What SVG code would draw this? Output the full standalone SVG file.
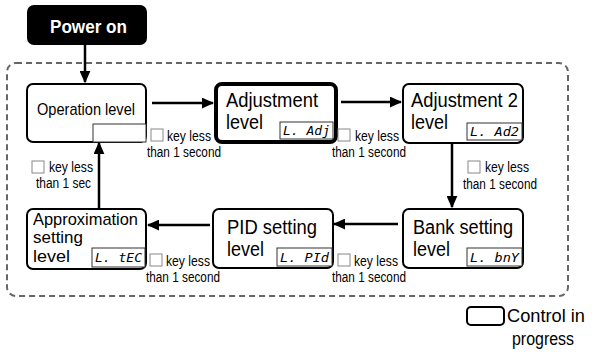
<svg xmlns="http://www.w3.org/2000/svg" width="594" height="352" viewBox="0 0 594 352">
<style>
text{font-family:"Liberation Sans",Arial,sans-serif;fill:#000}
.node{fill:#fff;stroke:#000;stroke-width:2}
.big{font-size:19.5px}
.lbl{font-size:14px}
.cb{fill:#fff;stroke:#888;stroke-width:1}
.disp{fill:#fff;stroke:#333;stroke-width:1}
.seg{font-family:"DejaVu Sans Mono","Liberation Mono",monospace;font-size:13px;font-style:italic}
.conn{stroke:#000;stroke-width:2.5;fill:none}
.apx{font-size:17px}
</style>
<defs>
<marker id="ah" viewBox="0 0 10 10" refX="9" refY="5" markerWidth="5" markerHeight="4.4" orient="auto" markerUnits="strokeWidth" preserveAspectRatio="none">
<path d="M0,0 L10,5 L0,10 Z" fill="#000"/>
</marker>
</defs>
<rect x="7" y="63" width="561" height="233" rx="9" fill="none" stroke="#666" stroke-width="2" stroke-dasharray="6 4"/>
<g id="power">
<rect x="27" y="5" width="120" height="40" rx="7" fill="#000"/>
<text x="50" y="33" textLength="77" lengthAdjust="spacingAndGlyphs" style="font-size:18.5px;font-weight:bold;fill:#fff">Power on</text>
</g>
<g id="operation">
<rect class="node" x="27" y="84" width="119" height="58" rx="6"/>
<rect x="93" y="124" width="53" height="18" fill="#fff" stroke="#333" stroke-width="1"/>
<text x="37" y="115" textLength="98" lengthAdjust="spacingAndGlyphs" style="font-size:17px">Operation level</text>
</g>
<g id="adjustment">
<rect x="216" y="84" width="120" height="58" rx="6" fill="#fff" stroke="#000" stroke-width="4"/>
<text class="big" x="226" y="107" textLength="92" lengthAdjust="spacingAndGlyphs">Adjustment</text>
<text class="big" x="226" y="129" textLength="37" lengthAdjust="spacingAndGlyphs">level</text>
<rect class="disp" x="280" y="122" width="53" height="17"/>
<text class="seg" x="283" y="135" textLength="47" lengthAdjust="spacingAndGlyphs">L. Adj</text>
</g>
<g id="adjustment2">
<rect class="node" x="403" y="84" width="120" height="59" rx="6"/>
<text class="big" x="411" y="107" textLength="107" lengthAdjust="spacingAndGlyphs">Adjustment 2</text>
<text class="big" x="411" y="129" textLength="37" lengthAdjust="spacingAndGlyphs">level</text>
<rect class="disp" x="467" y="123" width="55" height="17"/>
<text class="seg" x="470" y="136" textLength="49" lengthAdjust="spacingAndGlyphs">L. Ad2</text>
</g>
<g id="bank">
<rect class="node" x="403" y="209" width="120" height="59" rx="6"/>
<text class="big" x="413" y="234" textLength="100" lengthAdjust="spacingAndGlyphs">Bank setting</text>
<text class="big" x="413" y="256" textLength="37" lengthAdjust="spacingAndGlyphs">level</text>
<rect class="disp" x="467" y="248" width="55" height="18"/>
<text class="seg" x="470" y="262" textLength="49" lengthAdjust="spacingAndGlyphs">L. bnY</text>
</g>
<g id="pid">
<rect class="node" x="213" y="209" width="120" height="59" rx="6"/>
<text class="big" x="227" y="234" textLength="90" lengthAdjust="spacingAndGlyphs">PID setting</text>
<text class="big" x="227" y="256" textLength="37" lengthAdjust="spacingAndGlyphs">level</text>
<rect class="disp" x="277" y="248" width="55" height="18"/>
<text class="seg" x="280" y="262" textLength="49" lengthAdjust="spacingAndGlyphs">L. PId</text>
</g>
<g id="approximation">
<rect class="node" x="27" y="209" width="119" height="60" rx="6"/>
<text class="apx" x="33" y="225" textLength="105" lengthAdjust="spacingAndGlyphs">Approximation</text>
<text class="apx" x="33" y="243" textLength="50" lengthAdjust="spacingAndGlyphs">setting</text>
<text class="apx" x="33" y="262" textLength="37" lengthAdjust="spacingAndGlyphs">level</text>
<rect class="disp" x="92" y="248" width="53" height="19"/>
<text class="seg" x="95" y="262" textLength="47" lengthAdjust="spacingAndGlyphs">L. tEC</text>
</g>
<g id="connectors">
<line class="conn" x1="85" y1="45" x2="85" y2="82" marker-end="url(#ah)"/>
<line class="conn" x1="152" y1="103" x2="213" y2="103" marker-end="url(#ah)"/>
<line class="conn" x1="341" y1="102" x2="401" y2="102" marker-end="url(#ah)"/>
<line class="conn" x1="452" y1="144" x2="452" y2="207" marker-end="url(#ah)"/>
<line class="conn" x1="398" y1="224" x2="334" y2="224" marker-end="url(#ah)"/>
<line class="conn" x1="210" y1="225" x2="148" y2="225" marker-end="url(#ah)"/>
<line class="conn" x1="99" y1="208" x2="99" y2="143" marker-end="url(#ah)"/>
</g>
<g id="labels">
<rect class="cb" x="151" y="129" width="12" height="12"/>
<text class="lbl" x="167" y="141" textLength="44" lengthAdjust="spacingAndGlyphs">key less</text>
<text class="lbl" x="147" y="157" textLength="74" lengthAdjust="spacingAndGlyphs">than 1 second</text>
<rect class="cb" x="338" y="129" width="12" height="12"/>
<text class="lbl" x="355" y="141" textLength="44" lengthAdjust="spacingAndGlyphs">key less</text>
<text class="lbl" x="332" y="157" textLength="74" lengthAdjust="spacingAndGlyphs">than 1 second</text>
<rect class="cb" x="468" y="161" width="12" height="12"/>
<text class="lbl" x="485" y="172" textLength="44" lengthAdjust="spacingAndGlyphs">key less</text>
<text class="lbl" x="463" y="189" textLength="74" lengthAdjust="spacingAndGlyphs">than 1 second</text>
<rect class="cb" x="338" y="254" width="12" height="12"/>
<text class="lbl" x="354" y="266" textLength="44" lengthAdjust="spacingAndGlyphs">key less</text>
<text class="lbl" x="332" y="282" textLength="74" lengthAdjust="spacingAndGlyphs">than 1 second</text>
<rect class="cb" x="150" y="254" width="12" height="12"/>
<text class="lbl" x="166" y="266" textLength="44" lengthAdjust="spacingAndGlyphs">key less</text>
<text class="lbl" x="146" y="282" textLength="74" lengthAdjust="spacingAndGlyphs">than 1 second</text>
<rect class="cb" x="32" y="161" width="12" height="12"/>
<text class="lbl" x="49" y="172" textLength="44" lengthAdjust="spacingAndGlyphs">key less</text>
<text class="lbl" x="36" y="188" textLength="55" lengthAdjust="spacingAndGlyphs">than 1 sec</text>
</g>
<g id="legend">
<rect x="467" y="307" width="37" height="18" rx="4" fill="#fff" stroke="#000" stroke-width="2"/>
<text x="507" y="322" textLength="78" lengthAdjust="spacingAndGlyphs" style="font-size:17.5px">Control in</text>
<text x="512" y="345" textLength="62" lengthAdjust="spacingAndGlyphs" style="font-size:17.5px">progress</text>
</g>
</svg>
